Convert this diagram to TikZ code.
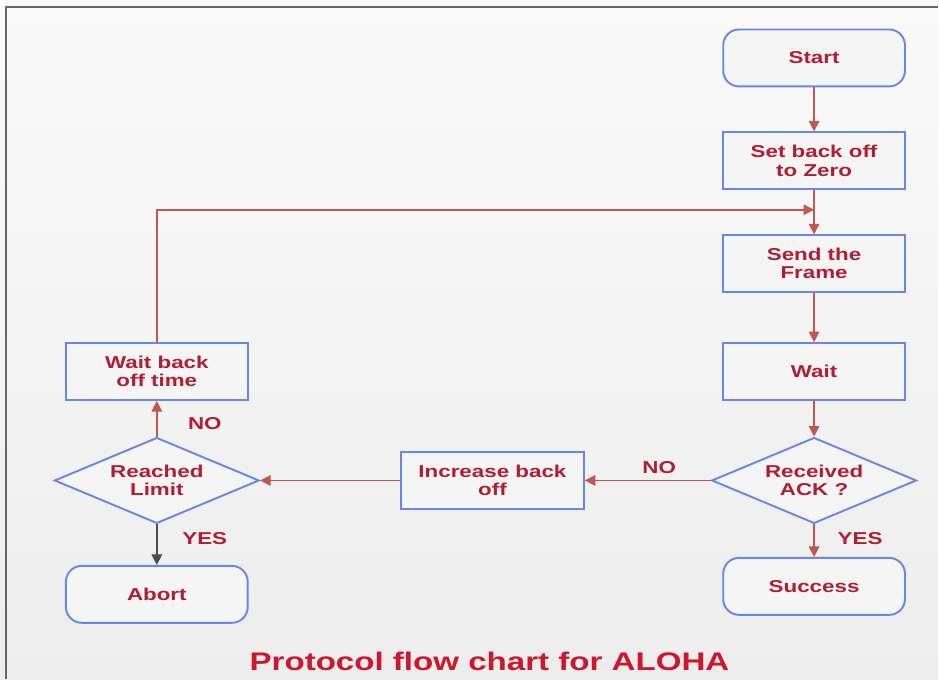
\documentclass[tikz,border=0pt]{standalone}
\usepackage{fontspec}
\setmainfont[FakeStretch=1.3]{Liberation Sans}
\usepackage{tikz}
\usetikzlibrary{arrows.meta,positioning,shapes.geometric}
\definecolor{boxline}{RGB}{105,135,232}
\definecolor{boxtext}{RGB}{178,28,52}
\definecolor{flowline}{RGB}{192,88,78}
\definecolor{titlered}{RGB}{206,22,44}

\begin{document}
\begin{tikzpicture}[x=0.02cm,y=-0.02cm,>={Triangle[length=6pt,width=6pt]},
     font=\fontsize{9.8}{10.3}\selectfont\bfseries,
     pbox/.style={draw=boxline,line width=1.1pt,fill=white!96!black,text=boxtext,align=center,
       minimum width=3.64cm,minimum height=1.14cm,inner sep=2pt},
     tbox/.style={pbox,rounded corners=9pt},
     dbox/.style={diamond,draw=boxline,line width=1.1pt,fill=white!96!black,text=boxtext,align=center,
       aspect=2.4,minimum width=4.1cm,minimum height=1.72cm,inner sep=0pt},
     ar/.style={->,draw=flowline,line width=0.9pt},
     lbl/.style={text=boxtext}]
    % background and frame
    \shade[top color=white!98!black,bottom color=black!7] (0,0) rectangle (939,680);
    \draw[black!60,line width=1.2pt] (6,680) -- (6,7) -- (939,7);
    \useasboundingbox (0,0) rectangle (939,680);

    \node[tbox] (start) at (815,58)  {Start};
    \node[pbox] (zero)  at (815,161) {Set back off\\to Zero};
    \node[pbox] (send)  at (815,264) {Send the\\Frame};
    \node[pbox] (wait)  at (815,372) {Wait};
    \node[dbox] (ack)   at (815,481) {Received\\ACK ?};
    \node[tbox] (succ)  at (815,587) {Success};
    \node[pbox,minimum width=3.66cm] (incr) at (493,481) {Increase back\\off};
    \node[dbox] (limit) at (157,481) {Reached\\Limit};
    \node[pbox] (wbo)   at (157,372) {Wait back\\off time};
    \node[tbox] (abort) at (157,595) {Abort};
    \coordinate (join) at (815,210);

    \draw[ar] (start)--(zero);
    \draw[ar] (zero)--(send);
    \draw[ar] (send)--(wait);
    \draw[ar] (wait)--(ack);
    \draw[ar] (ack)--(succ);
    \draw[ar] (ack)--(incr);
    \draw[ar] (incr)--(limit);
    \draw[ar] (limit)--(wbo);
    \draw[ar] (wbo.north) |- (join);
    \draw[->,draw=black!70,line width=0.9pt] (limit)--(abort);

    \node[lbl] (no1)  at (205,424) {NO};
    \node[lbl] (no2)  at (660,468) {NO};
    \node[lbl] (yes1) at (205,539) {YES};
    \node[lbl] (yes2) at (861,539) {YES};

    \node[text=titlered,font=\fontsize{14.5}{17}\selectfont\bfseries] (title) at (490,662)
      {Protocol flow chart for ALOHA};
  \end{tikzpicture}
\end{document}
